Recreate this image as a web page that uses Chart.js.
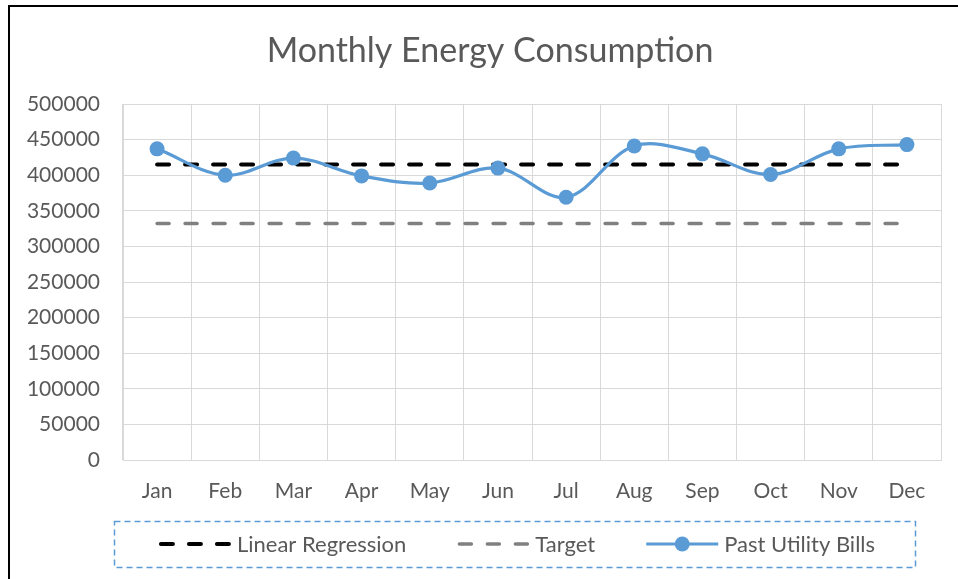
<!DOCTYPE html>
<html>
<head>
<meta charset="utf-8">
<title>Monthly Energy Consumption</title>
<script src="https://cdn.jsdelivr.net/npm/chart.js@4.4.1/dist/chart.umd.min.js"></script>
<style>
    html, body { margin: 0; padding: 0; background: #fff; overflow: hidden; }
    #wrap { position: relative; width: 958px; height: 579px; }
    /* chart frame: only the top and left edges fall inside the picture */
    #frame {
        position: absolute; left: 8px; top: 5px; right: -20px; bottom: -20px;
        border-left: 2px solid #000; border-top: 2px solid #000;
        pointer-events: none;
    }
</style>
</head>
<body>
<div id="wrap">
    <canvas id="energyChart"></canvas>
    <div id="frame"></div>
</div>
<script>
const chartTitle = 'Monthly Energy Consumption';
const months = ['Jan', 'Feb', 'Mar', 'Apr', 'May', 'Jun', 'Jul', 'Aug', 'Sep', 'Oct', 'Nov', 'Dec'];
const pastUtilityBills = [437000, 400000, 424000, 399000, 389000, 410000, 369000, 441000, 430000, 401000, 437000, 443000];
const linearRegression = [415000, 415000, 415000, 415000, 415000, 415000, 415000, 415000, 415000, 415000, 415000, 415000];
const target = [332000, 332000, 332000, 332000, 332000, 332000, 332000, 332000, 332000, 332000, 332000, 332000];
const yMin = 0;
const yMax = 500000;
const yStep = 50000;

const TEXT_COLOR = '#595959';
const GRID_COLOR = '#d9d9d9';
const FONT = 'Lato';

// Title (centred on the whole chart frame, which runs past the right edge)
// and the legend inside a dashed blue box under the x axis
const decorations = {
    id: 'decorations',
    afterDraw(chart) {
        const ctx = chart.ctx;
        ctx.save();

        // title
        ctx.font = `34px ${FONT}`;
        ctx.fillStyle = TEXT_COLOR;
        ctx.textAlign = 'center';
        ctx.textBaseline = 'middle';
        ctx.fillText(chartTitle, 490, 51);

        // legend
        const centerX = 516;
        const centerY = 544;
        const sampleW = 76;
        const textGap = 4;
        const itemGap = 49;

        ctx.font = `22px ${FONT}`;
        ctx.textAlign = 'left';
        const items = chart.data.datasets.map(ds => ({ ds, w: ctx.measureText(ds.label).width }));
        const total = items.reduce((s, it) => s + sampleW + textGap + it.w, 0) + itemGap * (items.length - 1);
        let x = centerX - total / 2;

        items.forEach(({ ds, w }) => {
            ctx.beginPath();
            ctx.lineWidth = ds.borderWidth;
            ctx.strokeStyle = ds.borderColor;
            ctx.lineCap = ds.borderCapStyle || 'butt';
            ctx.setLineDash(ds.borderDash || []);
            ctx.lineDashOffset = -2;
            ctx.moveTo(x + 2, centerY);
            ctx.lineTo(x + sampleW - 2, centerY);
            ctx.stroke();
            if (ds.pointRadius > 0) {
                ctx.setLineDash([]);
                ctx.beginPath();
                ctx.fillStyle = ds.pointBackgroundColor;
                ctx.arc(x + sampleW / 2, centerY, ds.pointRadius, 0, Math.PI * 2);
                ctx.fill();
            }
            ctx.fillStyle = TEXT_COLOR;
            ctx.fillText(ds.label, x + sampleW + textGap, centerY + 1);
            x += sampleW + textGap + w + itemGap;
        });

        ctx.setLineDash([6, 4]);
        ctx.lineDashOffset = 0;
        ctx.lineCap = 'butt';
        ctx.lineWidth = 1.5;
        ctx.strokeStyle = '#5b9bd5';
        ctx.strokeRect(114.5, 521.5, 801, 46);
        ctx.restore();
    }
};

const ctx = document.getElementById('energyChart').getContext('2d');
new Chart(ctx, {
    type: 'line',
    data: {
        labels: months,
        datasets: [{
            label: 'Linear Regression',
            data: linearRegression,
            borderColor: '#000000',
            borderWidth: 4,
            borderDash: [12, 16],
            borderCapStyle: 'round',
            pointRadius: 0,
            order: 1
        }, {
            label: 'Target',
            data: target,
            borderColor: '#808080',
            borderWidth: 3.5,
            borderDash: [12, 16],
            borderCapStyle: 'round',
            pointRadius: 0,
            order: 2
        }, {
            label: 'Past Utility Bills',
            data: pastUtilityBills,
            borderColor: '#5b9bd5',
            borderWidth: 3.2,
            tension: 0.35,
            pointRadius: 7.5,
            pointBackgroundColor: '#5b9bd5',
            pointBorderColor: '#5b9bd5',
            pointBorderWidth: 0,
            order: 0
        }]
    },
    options: {
        responsive: true,
        maintainAspectRatio: false,
        animation: false,
        layout: {
            padding: { left: 0, right: 17, top: 104, bottom: 74 }
        },
        scales: {
            x: {
                offset: true,
                grid: { color: GRID_COLOR, offset: true, drawTicks: false },
                border: { color: GRID_COLOR },
                ticks: {
                    color: TEXT_COLOR,
                    font: { family: FONT, size: 21 },
                    padding: 19,
                    maxRotation: 0
                },
                afterFit(scale) { scale.height = 45; }
            },
            y: {
                min: yMin,
                max: yMax,
                grid: { color: GRID_COLOR, drawTicks: false },
                border: { color: GRID_COLOR },
                ticks: {
                    stepSize: yStep,
                    color: TEXT_COLOR,
                    font: { family: FONT, size: 21 },
                    padding: 23,
                    callback: (v) => String(v)
                },
                afterFit(scale) { scale.width = 123; }
            }
        },
        plugins: {
            legend: { display: false },
            tooltip: { enabled: false },
            title: { display: false }
        }
    },
    plugins: [decorations]
});
</script>
</body>
</html>
